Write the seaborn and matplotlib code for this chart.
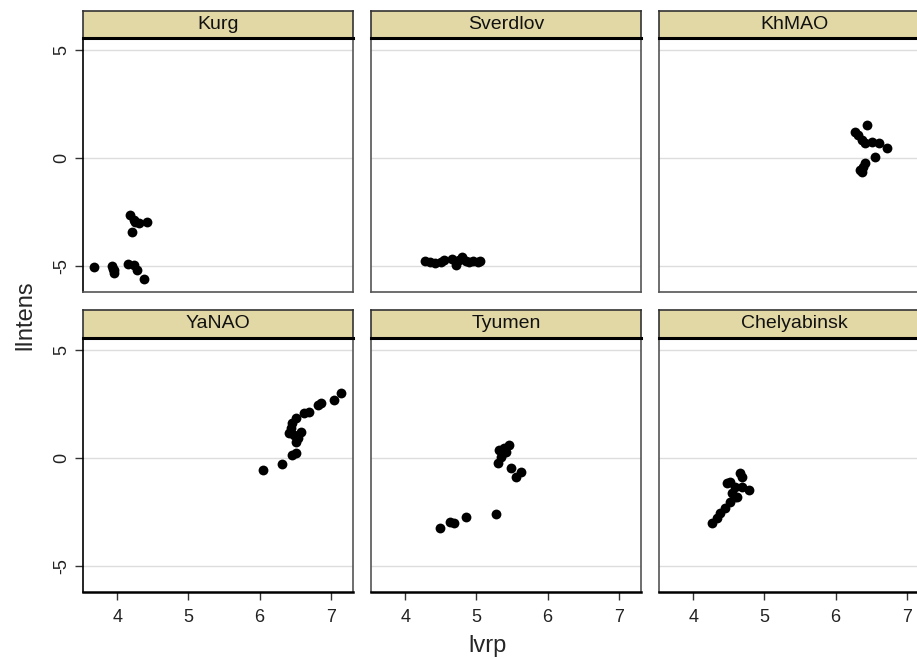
import matplotlib
matplotlib.use("Agg")
import matplotlib.pyplot as plt
import seaborn as sns
import pandas as pd

# panel order, left to right, top to bottom
regions = ["Kurg", "Sverdlov", "KhMAO", "YaNAO", "Tyumen", "Chelyabinsk"]

kurg_x = [3.68, 3.93, 3.95, 3.96, 3.94, 4.15, 4.23, 4.28, 4.37, 4.18, 4.23, 4.30, 4.42, 4.21, 4.25]
kurg_y = [-5.05, -5.0, -5.2, -5.3, -5.15, -4.9, -4.95, -5.2, -5.6, -2.64, -2.87, -3.0, -2.96, -3.43, -2.96]

sverd_x = [4.28, 4.35, 4.42, 4.50, 4.55, 4.65, 4.72, 4.76, 4.80, 4.85, 4.90, 4.95, 5.02, 5.05]
sverd_y = [-4.75, -4.8, -4.85, -4.8, -4.7, -4.65, -4.95, -4.7, -4.6, -4.75, -4.8, -4.75, -4.8, -4.75]

khmao_x = [6.44, 6.27, 6.32, 6.37, 6.41, 6.51, 6.61, 6.72, 6.55, 6.39, 6.37, 6.41, 6.34]
khmao_y = [1.53, 1.2, 1.06, 0.83, 0.69, 0.74, 0.69, 0.46, 0.05, -0.42, -0.65, -0.23, -0.55]

yanao_x = [6.04, 6.32, 6.46, 6.51, 6.51, 6.54, 6.58, 6.44, 6.46, 6.51, 6.62, 6.69, 6.82, 6.86, 7.04, 7.14, 6.41, 6.48]
yanao_y = [-0.56, -0.28, 0.14, 0.23, 0.74, 0.93, 1.2, 1.39, 1.62, 1.85, 2.08, 2.13, 2.45, 2.55, 2.69, 3.0, 1.16, 1.06]

tyumen_x = [4.49, 4.63, 4.69, 4.85, 5.28, 5.32, 5.37, 5.46, 5.30, 5.34, 5.41, 5.48, 5.55, 5.62, 5.39]
tyumen_y = [-3.24, -2.96, -3.0, -2.73, -2.6, 0.37, 0.23, 0.6, -0.23, 0.05, 0.28, -0.46, -0.88, -0.65, 0.46]

chel_x = [4.27, 4.34, 4.38, 4.44, 4.52, 4.58, 4.62, 4.48, 4.52, 4.58, 4.69, 4.79, 4.66, 4.69, 4.55]
chel_y = [-3.0, -2.78, -2.55, -2.31, -2.04, -1.8, -1.8, -1.16, -1.11, -1.34, -1.34, -1.48, -0.69, -0.88, -1.62]

xs = [kurg_x, sverd_x, khmao_x, yanao_x, tyumen_x, chel_x]
ys = [kurg_y, sverd_y, khmao_y, yanao_y, tyumen_y, chel_y]

x_ticks = [4, 5, 6, 7]
y_ticks = [-5, 0, 5]

frames = []
for name, x, y in zip(regions, xs, ys):
    frames.append(pd.DataFrame({"region": name, "lvrp": x, "lIntens": y}))
df = pd.concat(frames, ignore_index=True)

sns.set_style("white")
plt.rcParams["font.family"] = ["Liberation Sans", "DejaVu Sans"]
plt.rcParams["axes.unicode_minus"] = False

W, H = 917, 659
fig = plt.figure(figsize=(W / 100, H / 100), dpi=100)

col_left = [83, 371, 659]
pw = 270
rows = [(38, 292, 11), (338, 592, 310)]  # axes top, axes bottom, strip top
strip_col = "#e2d8a5"
frame_col = "#555555"

for i, name in enumerate(regions):
    r, c = divmod(i, 3)
    top, bot, stop = rows[r]
    left = col_left[c]
    ax = fig.add_axes([left / W, 1 - bot / H, pw / W, (bot - top) / H])
    sub = df[df["region"] == name]
    for yt in y_ticks:
        ax.axhline(yt, color="#dddddd", lw=1, zorder=0)
    sns.scatterplot(data=sub, x="lvrp", y="lIntens", ax=ax, color="black",
                    s=50, linewidth=0, legend=False, zorder=3)
    ax.set_xlim(3.52, 7.31)
    ax.set_ylim(-6.2, 5.56)
    ax.set_xlabel("")
    ax.set_ylabel("")
    for s in ax.spines.values():
        s.set_color(frame_col)
        s.set_linewidth(1.2)
    ax.set_xticks(x_ticks)
    ax.set_yticks(y_ticks)
    if c == 0:
        ax.tick_params(axis="y", left=True, length=6, width=1, color="#333333",
                       labelsize=13, pad=3, labelcolor="#222222")
        for lab in ax.get_yticklabels():
            lab.set_rotation(90)
            lab.set_va("center")
        ax.spines["left"].set_color("black")
    else:
        ax.tick_params(axis="y", left=False, labelleft=False)
    if r == 1:
        ax.tick_params(axis="x", bottom=True, length=6, width=1, color="#333333",
                       labelsize=13, pad=6, labelcolor="#222222")
        ax.spines["bottom"].set_color("black")
        ax.spines["bottom"].set_linewidth(1.8)
    else:
        ax.tick_params(axis="x", bottom=False, labelbottom=False)

    # strip
    sax = fig.add_axes([left / W, 1 - top / H, pw / W, (top - stop) / H])
    sax.set_facecolor(strip_col)
    sax.set_xticks([])
    sax.set_yticks([])
    for s in sax.spines.values():
        s.set_color("#333333")
        s.set_linewidth(1.2)
    sax.spines["bottom"].set_color("black")
    sax.spines["bottom"].set_linewidth(2.2)
    sax.text(0.5, 0.5, name, ha="center", va="center", fontsize=14,
             transform=sax.transAxes, color="#111111")

fig.text(25 / W, 1 - 315 / H, "lIntens", rotation=90, ha="center", va="center", fontsize=17)
fig.text(488 / W, 1 - 646 / H, "lvrp", ha="center", va="center", fontsize=17)

fig.savefig("out.png", dpi=100)
